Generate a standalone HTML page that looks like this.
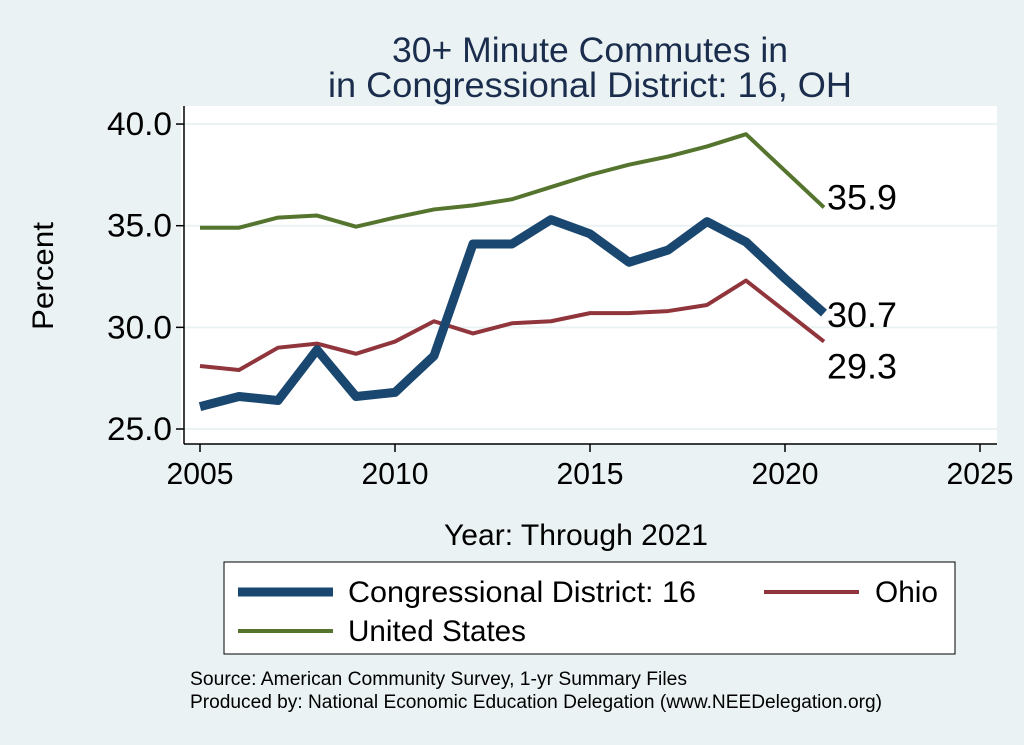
<!DOCTYPE html>
<html><head><meta charset="utf-8"><style>
body{margin:0;background:#eaf2f3;}
svg{display:block;font-family:"Liberation Sans",sans-serif;}
</style></head><body>
<svg id="c" width="1024" height="745" xml:space="preserve">
<rect x="0" y="0" width="1024" height="745" fill="#eaf2f3"/>
<rect x="181" y="106" width="816" height="338" fill="#fff"/>
<text x="590" y="62" font-size="35" fill="#1a2d4d" text-anchor="middle" textLength="396" lengthAdjust="spacingAndGlyphs">30+ Minute Commutes in</text>
<text x="590" y="97" font-size="35" fill="#1a2d4d" text-anchor="middle" textLength="524" lengthAdjust="spacingAndGlyphs">in Congressional District:  16, OH</text>
<g id="grid"></g><g id="axes"></g><g id="series"></g>
<text transform="translate(53,276) rotate(-90)" font-size="30" text-anchor="middle" textLength="108" lengthAdjust="spacingAndGlyphs">Percent</text>
<text x="576" y="545" font-size="30" text-anchor="middle" textLength="264" lengthAdjust="spacingAndGlyphs">Year: Through 2021</text>
<g>
<rect x="224" y="562" width="731" height="92" fill="#fff" stroke="#000" stroke-width="1"/>
<line x1="238" y1="592" x2="333" y2="592" stroke="#1a476f" stroke-width="9"/>
<text x="348" y="602" font-size="30" textLength="348" lengthAdjust="spacingAndGlyphs">Congressional District:  16</text>
<line x1="764" y1="592" x2="859" y2="592" stroke="#90353b" stroke-width="4"/>
<text x="875" y="602" font-size="30" textLength="63" lengthAdjust="spacingAndGlyphs">Ohio</text>
<line x1="238" y1="631" x2="333" y2="631" stroke="#55752f" stroke-width="4"/>
<text x="348" y="641" font-size="30" textLength="178" lengthAdjust="spacingAndGlyphs">United States</text>
</g>
<text x="190" y="685" font-size="19" textLength="497" lengthAdjust="spacingAndGlyphs">Source: American Community Survey, 1-yr Summary Files</text>
<text x="190" y="708" font-size="19" textLength="692" lengthAdjust="spacingAndGlyphs">Produced by: National Economic Education Delegation (www.NEEDelegation.org)</text>
</svg>
<script>
const years=[2005,2006,2007,2008,2009,2010,2011,2012,2013,2014,2015,2016,2017,2018,2019,2020,2021];
const cd16=[26.1,26.6,26.4,28.9,26.6,26.8,28.6,34.1,34.1,35.3,34.6,33.2,33.8,35.2,34.2,32.4,30.7];
const ohio=[28.1,27.9,29.0,29.2,28.7,29.3,30.3,29.7,30.2,30.3,30.7,30.7,30.8,31.1,32.3,30.8,29.3];
const us=[34.9,34.9,35.4,35.5,34.95,35.4,35.8,36.0,36.3,36.9,37.5,38.0,38.4,38.9,39.5,37.7,35.9];
const yTicks=[25,30,35,40];
const xTicks=[2005,2010,2015,2020,2025];
const NS="http://www.w3.org/2000/svg";
const xs=v=>200+(v-2005)*39;
const ys=v=>429-(v-25)*20.33;
function mk(t,a,p){const e=document.createElementNS(NS,t);for(const k in a)e.setAttribute(k,a[k]);p.appendChild(e);return e;}
const grid=document.getElementById('grid'),axes=document.getElementById('axes'),ser=document.getElementById('series');
yTicks.forEach(v=>{
 const g=mk('line',{x1:184,x2:997,y1:ys(v),y2:ys(v),stroke:'#eaf2f3','stroke-width':2},grid);
 
 
 const t=mk('line',{x1:176,x2:184,y1:ys(v),y2:ys(v),stroke:'#000','stroke-width':1.5},axes);
 
 
 const l=mk('text',{x:172,y:ys(v)+11,'font-size':32,'text-anchor':'end',textLength:65,lengthAdjust:'spacingAndGlyphs'},axes);
 l.textContent=v.toFixed(1);
 
 
});
const ya=mk('line',{x1:184,x2:184,y1:106,y2:444,stroke:'#000','stroke-width':1.5},axes);


const xa=mk('line',{x1:184,x2:997,y1:444,y2:444,stroke:'#000','stroke-width':1.5},axes);


xTicks.forEach(v=>{
 const t=mk('line',{x1:xs(v),x2:xs(v),y1:444,y2:452,stroke:'#000','stroke-width':1.5},axes);
 
 
 const l=mk('text',{x:xs(v),y:484,'font-size':31,'text-anchor':'middle',textLength:67,lengthAdjust:'spacingAndGlyphs'},axes);
 l.textContent=v;
 
 
});
function line(vals,color,w,name,labelDy){
 const p=mk('polyline',{points:vals.map((v,i)=>xs(years[i])+','+ys(v)).join(' '),fill:'none',stroke:color,'stroke-width':w,'stroke-linejoin':'round'},ser);
 
 
 const last=vals[vals.length-1];
 const l=mk('text',{x:xs(years[years.length-1])+3,y:ys(last)+labelDy,'font-size':35,textLength:70,lengthAdjust:'spacingAndGlyphs'},ser);
 l.textContent=last.toFixed(1);
 
 
}
line(us,'#55752f',4,'us-line',2);
line(ohio,'#90353b',4,'ohio-line',37);
line(cd16,'#1a476f',9,'cd16-line',14);
</script>
</body></html>
